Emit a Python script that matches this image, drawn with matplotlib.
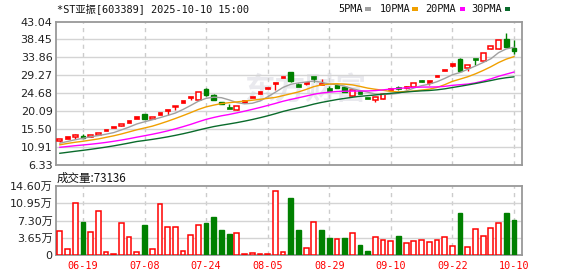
import matplotlib
matplotlib.use('Agg')
import matplotlib.pyplot as plt
from matplotlib.patches import Rectangle

# daily bars, 60 trading days shown
opens = [12.55, 13.35, 13.45, 13.83, 13.5, 14.0, 15.25, 16.0, 16.4, 17.3,
         18.5, 19.5, 18.1, 19.5, 20.45, 21.05, 22.6, 23.65, 22.95, 25.8,
         24.15, 22.45, 20.95, 20.4, 22.6, 23.7, 24.9, 26.1, 27.35, 28.8,
         30.2, 26.7, 27.2, 28.8, 26.95, 25.7, 26.8, 26.2, 24.1, 24.95,
         23.45, 22.9, 23.3, 25.8, 26.15, 26.2, 26.3, 27.9, 27.6, 29.1,
         30.55, 32.0, 33.45, 31.1, 33.45, 33.0, 36.0, 36.1, 38.45, 36.3]
highs = [13.1, 13.5, 14.35, 14.2, 14.0, 14.5, 15.25, 16.0, 16.8, 17.65,
         18.5, 19.5, 18.6, 19.5, 20.5, 21.5, 22.6, 23.7, 24.9, 26.1,
         24.55, 22.45, 21.9, 21.5, 22.6, 23.7, 24.9, 26.1, 27.4, 28.8,
         30.2, 27.25, 27.3, 28.8, 28.3, 26.6, 26.85, 26.25, 25.8, 24.95,
         23.45, 23.75, 24.7, 25.8, 26.6, 26.6, 27.4, 28.05, 27.9, 29.1,
         30.55, 32.05, 33.6, 31.85, 33.45, 35.05, 36.8, 38.4, 40.15, 38.4]
lows = [12.2, 13.35, 13.1, 13.32, 13.5, 14.0, 15.25, 16.0, 16.4, 17.3,
        18.5, 18.0, 18.1, 19.5, 19.2, 20.3, 22.6, 22.9, 22.95, 24.05,
        22.95, 21.95, 20.85, 20.3, 22.6, 23.7, 24.9, 26.1, 25.5, 28.8,
        27.6, 26.45, 26.7, 27.45, 26.95, 25.6, 25.95, 25.1, 23.9, 24.85,
        23.4, 22.4, 23.1, 25.8, 25.4, 25.8, 26.3, 27.45, 26.8, 29.1,
        30.55, 31.5, 30.5, 30.5, 31.8, 33.0, 36.0, 36.1, 36.6, 34.8]
closes = [13.07, 13.45, 13.95, 13.35, 14.0, 14.5, 15.25, 16.0, 16.8, 17.6,
          18.5, 18.0, 18.55, 19.5, 20.5, 21.5, 22.6, 23.7, 24.9, 24.2,
          23.0, 21.95, 20.85, 21.5, 22.6, 23.7, 24.9, 26.1, 27.4, 28.8,
          27.7, 26.6, 27.3, 28.7, 27.05, 25.6, 25.95, 25.1, 25.5, 24.85,
          23.4, 23.6, 24.6, 25.8, 26.0, 26.35, 27.35, 27.6, 27.75, 29.1,
          30.55, 32.05, 30.5, 31.8, 33.4, 35.0, 36.8, 38.3, 36.6, 35.5]

# volume in 万 shares, 1 = red (up) 0 = green (down)
volumes = [5.1, 1.3, 11.0, 7.05, 4.8, 9.3, 0.56, 0.14, 6.7, 3.8,
           0.56, 6.35, 1.27, 10.8, 5.85, 5.85, 0.78, 4.16, 6.35, 6.77,
           8.04, 5.36, 4.44, 4.58, 0.14, 0.42, 0.14, 0.14, 13.47, 0.56,
           12.06, 5.36, 1.48, 6.98, 5.36, 3.67, 3.39, 3.67, 4.58, 2.12,
           0.85, 3.74, 3.17, 2.96, 4.02, 2.54, 2.89, 3.17, 2.75, 3.17,
           3.74, 1.9, 8.89, 1.69, 5.5, 4.02, 5.71, 6.77, 8.89, 7.31]
vol_up = [1, 1, 1, 0, 1, 1, 1, 1, 1, 1, 1, 0, 1, 1, 1, 1, 1, 1, 1, 0,
          0, 0, 0, 1, 1, 1, 1, 1, 1, 1, 0, 0, 1, 1, 0, 0, 1, 0, 1, 0,
          0, 1, 1, 1, 0, 1, 1, 1, 1, 1, 1, 1, 0, 1, 1, 1, 1, 1, 0, 0]

ma5 = [11.9, 12.35, 12.8, 13.15, 13.56, 13.85, 14.21, 14.62, 15.31, 16.03,
       16.83, 17.38, 17.89, 18.43, 19.01, 19.61, 20.53, 21.56, 22.64, 23.38,
       23.68, 23.55, 22.98, 22.3, 21.98, 22.12, 22.71, 23.76, 24.94, 26.18,
       26.98, 27.32, 27.56, 27.82, 27.47, 27.05, 26.92, 26.48, 25.84, 25.4,
       24.96, 24.49, 24.39, 24.45, 24.68, 25.27, 26.02, 26.62, 27.01, 27.63,
       28.47, 29.41, 29.99, 30.8, 31.66, 32.55, 33.5, 35.06, 36.02, 36.44]
ma10 = [11.5, 11.85, 12.15, 12.4, 12.7, 13.0, 13.4, 13.8, 14.27, 14.8,
        15.34, 15.8, 16.26, 16.87, 17.52, 18.22, 18.96, 19.73, 20.54, 21.2,
        21.65, 22.04, 22.27, 22.47, 22.68, 22.9, 23.13, 23.37, 23.62, 24.08,
        24.55, 25.02, 25.66, 26.38, 26.83, 27.02, 27.12, 27.02, 26.83, 26.44,
        26.0, 25.7, 25.44, 25.15, 25.04, 25.12, 25.26, 25.5, 25.73, 26.16,
        26.87, 27.72, 28.3, 28.9, 29.65, 30.51, 31.46, 32.53, 33.41, 34.05]
ma20 = [10.86, 11.06, 11.27, 11.45, 11.64, 11.86, 12.11, 12.4, 12.71, 13.06,
        13.45, 13.81, 14.19, 14.6, 15.06, 15.57, 16.13, 16.72, 17.38, 18.0,
        18.49, 18.92, 19.26, 19.67, 20.1, 20.56, 21.04, 21.55, 22.08, 22.64,
        23.1, 23.53, 23.97, 24.43, 24.75, 24.96, 25.13, 25.2, 25.23, 25.26,
        25.28, 25.36, 25.55, 25.76, 25.93, 26.07, 26.19, 26.26, 26.28, 26.3,
        26.44, 26.71, 26.87, 27.03, 27.34, 27.81, 28.36, 29.02, 29.57, 30.1]
ma30 = [9.33, 9.58, 9.84, 10.08, 10.34, 10.62, 10.91, 11.23, 11.58, 11.95,
        12.34, 12.6, 12.88, 13.19, 13.53, 13.91, 14.32, 14.77, 15.26, 15.73,
        16.16, 16.51, 16.83, 17.17, 17.55, 17.96, 18.42, 18.91, 19.45, 20.03,
        20.51, 20.95, 21.4, 21.91, 22.34, 22.71, 23.07, 23.37, 23.66, 23.9,
        24.07, 24.25, 24.46, 24.67, 24.85, 25.01, 25.17, 25.3, 25.39, 25.56,
        25.81, 26.15, 26.47, 26.81, 27.17, 27.55, 27.94, 28.35, 28.66, 28.88]

date_labels = ['06-19', '07-08', '07-24', '08-05', '08-29', '09-10', '09-22', '10-10']
date_pos = [3, 11, 19, 27, 35, 43, 51, 59]

price_ticks = [6.33, 10.91, 15.50, 20.09, 24.68, 29.27, 33.86, 38.45, 43.04]
vol_ticks = [0, 3.65, 7.30, 10.95, 14.60]
vol_tick_labels = ['0', '3.65万', '7.30万', '10.95万', '14.60万']

title = '*ST亚振[603389] 2025-10-10 15:00'
ma_names = ['5PMA', '10PMA', '20PMA', '30PMA']
last_volume = 73136

RED = '#ff0000'
GREEN = '#008000'
MA_COLORS = ['#a0a0a0', '#f0a000', '#ff00ff', '#0a6b2c']
FRAME = '#999999'
GRID = '#d4d4d4'
CJK = ['DejaVu Sans', 'Noto Sans CJK SC']
MONO = ['DejaVu Sans Mono', 'Noto Sans CJK SC']

W, H = 578, 276
fig = plt.figure(figsize=(W / 100, H / 100), dpi=100)
ax = fig.add_axes([56 / W, 1 - 165 / H, 466 / W, 143.5 / H])
axv = fig.add_axes([56 / W, 1 - 255 / H, 466 / W, 69 / H])

n = len(closes)
xs = list(range(n))
bw = 0.62

for a in (ax, axv):
    a.set_xlim(-0.5, 60.05)
    for s in a.spines.values():
        s.set_color(FRAME)
        s.set_linewidth(1.3)
    a.set_xticks(date_pos)
    a.tick_params(length=0, pad=2.5)
    for p in date_pos:
        a.axvline(p, color='#cccccc', lw=1, ls=(0, (3, 3)), zorder=0.5)

# watermark
ax.text((305 - 56) / 466, (165 - 90) / 143.5, '东方财富', transform=ax.transAxes,
        ha='center', va='center', fontsize=22, fontweight='bold',
        color='#e9e9ee', family='Noto Sans CJK SC', zorder=0.3)

# price panel
ax.set_ylim(price_ticks[0], price_ticks[-1])
ax.set_yticks(price_ticks)
ax.set_yticklabels(['%.2f' % t for t in price_ticks], fontsize=8, color='#222222')
for t in price_ticks[1:-1]:
    ax.axhline(t, color=GRID, lw=1, zorder=0.5)
ax.set_xticklabels([])

for i in xs:
    o, h, l, c = opens[i], highs[i], lows[i], closes[i]
    if c >= o:
        col = RED
    else:
        col = GREEN
    ax.vlines(i, l, h, color=col, lw=1, zorder=2)
    if abs(c - o) < 0.35:
        mid = (o + c) / 2
        ax.add_patch(Rectangle((i - bw / 2, mid - 0.3), bw, 0.6, facecolor=col,
                               edgecolor=col, lw=0.5, zorder=3))
    elif c > o:
        ax.add_patch(Rectangle((i - bw / 2, o), bw, c - o, facecolor='white',
                               edgecolor=col, lw=1.1, zorder=3))
    else:
        ax.add_patch(Rectangle((i - bw / 2, c), bw, o - c, facecolor=col,
                               edgecolor=col, lw=1, zorder=3))

for vals, col in zip([ma5, ma10, ma20, ma30], MA_COLORS):
    ax.plot(xs, vals, color=col, lw=1, zorder=4)

# volume panel
axv.set_ylim(vol_ticks[0], vol_ticks[-1])
axv.set_yticks(vol_ticks)
axv.set_yticklabels(vol_tick_labels, fontsize=8, color='#222222', family=CJK)
for t in vol_ticks[1:-1]:
    axv.axhline(t, color=GRID, lw=1, zorder=0.5)
for i in xs:
    if vol_up[i]:
        axv.bar(i, volumes[i], width=bw, facecolor='white', edgecolor=RED, lw=1.1, zorder=3)
    else:
        axv.bar(i, volumes[i], width=bw, facecolor=GREEN, edgecolor=GREEN, lw=1, zorder=3)
axv.set_xticklabels(date_labels, fontsize=7.3, color=RED, family='DejaVu Sans Mono')
axv.tick_params(axis='x', pad=4)

# header texts
fig.text(57 / W, 1 - 8.5 / H, title, ha='left', va='center', fontsize=7.4,
         family=MONO, color='#111111')
leg_x = [338.7, 379.7, 425, 471]
dash_x = [365, 412, 459.5, 504.5]
for name, lx, dx, col in zip(ma_names, leg_x, dash_x, MA_COLORS):
    fig.text(lx / W, 1 - 9 / H, name, ha='left', va='center', fontsize=7.4,
             family=MONO, color='#111111')
    fig.add_artist(Rectangle((dx / W, 1 - 10.5 / H), 5.5 / W, 3 / H, facecolor=col,
                             edgecolor='none', transform=fig.transFigure))
fig.text(57 / W, 1 - 178 / H, '成交量:%d' % last_volume, ha='left', va='center',
         fontsize=8.3, family='Noto Sans CJK SC', color='#111111')

fig.savefig('out.png', dpi=100)
